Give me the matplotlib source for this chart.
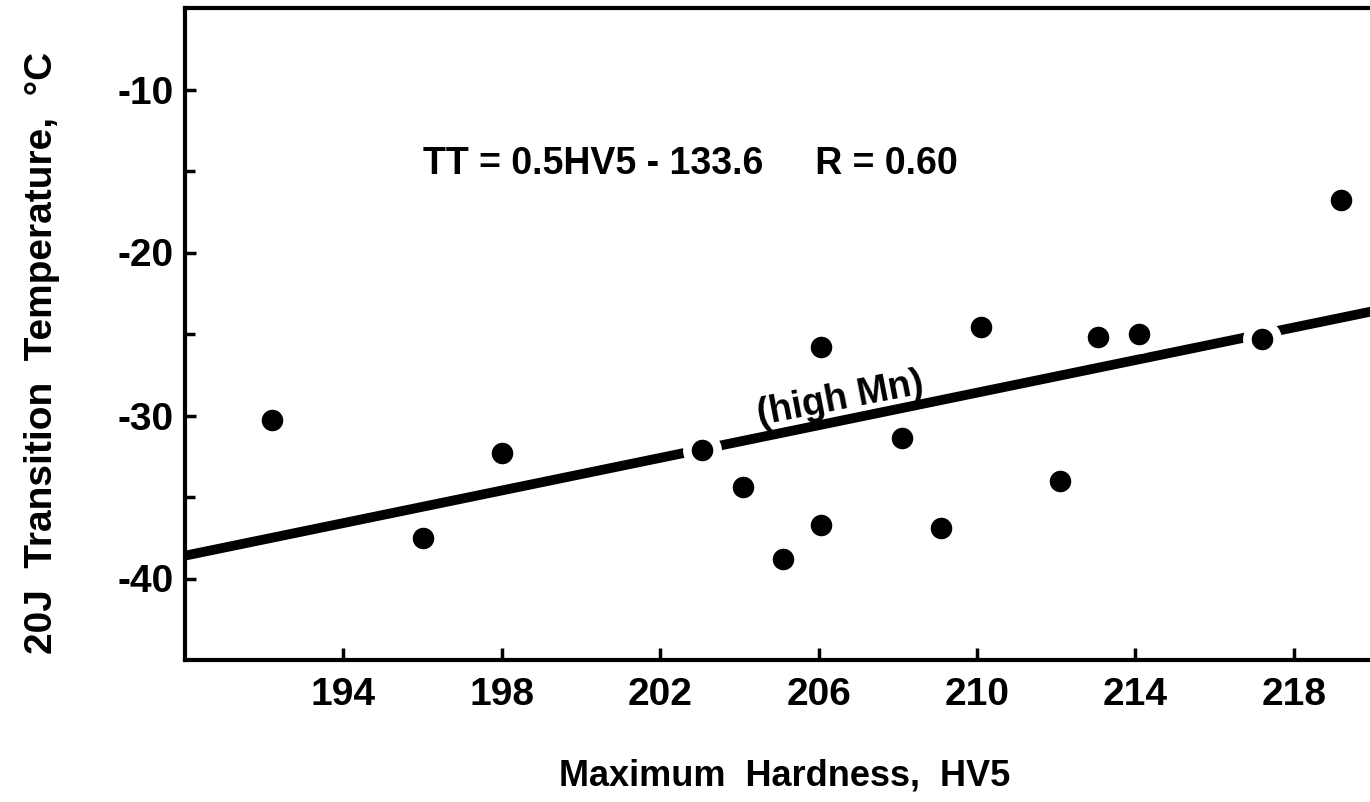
import matplotlib
matplotlib.use("Agg")
import matplotlib.pyplot as plt
from matplotlib import font_manager
import numpy as np

# hardness vs 20 J transition temperature (high Mn welds)
hardness = [192.2, 196.0, 198.0, 203.05, 204.1, 205.1, 206.05, 206.05,
            208.1, 209.1, 210.1, 212.1, 213.05, 214.1, 217.2, 219.2]
trans_temp = [-30.3, -37.5, -32.3, -32.1, -34.4, -38.8, -25.8, -36.7,
              -31.4, -36.9, -24.6, -34.0, -25.2, -25.0, -25.3, -16.8]

# fitted line  TT = 0.5*HV5 - 133.6
slope = 0.5
intercept = -133.6

xticks = [194, 198, 202, 206, 210, 214, 218]
yticks = [-40, -30, -20, -10]

names = {f.name for f in font_manager.fontManager.ttflist}
family = 'Liberation Sans Narrow' if 'Liberation Sans Narrow' in names else 'Liberation Sans'
plt.rcParams['font.family'] = [family, 'DejaVu Sans']
plt.rcParams['font.weight'] = 'bold'
plt.rcParams['axes.unicode_minus'] = False

fig = plt.figure(figsize=(13.7, 8.02), dpi=100)
ax = fig.add_axes([185 / 1370, 1 - 660 / 802, 1188 / 1370, 652 / 802])

xfit = np.array([190, 220])
ax.plot(xfit, slope * xfit + intercept, color='black', lw=7, solid_capstyle='round', zorder=1)

# white halo so the line breaks around points that sit on it
ax.plot(hardness, trans_temp, 'o', color='white', ms=28, mew=0, zorder=2)
ax.plot(hardness, trans_temp, 'o', color='black', ms=15.5, mew=0, zorder=3)

ax.set_xlim(190, 220)
ax.set_ylim(-45, -5)
ax.set_xticks(xticks)
ax.set_yticks(yticks)
ax.set_yticks([-35, -25, -15], minor=True)

ax.tick_params(axis='both', direction='in', width=2.5, labelsize=28)
ax.tick_params(axis='x', length=9, pad=12)
ax.tick_params(axis='y', length=8, pad=8)
ax.tick_params(axis='y', which='minor', direction='in', length=7, width=2.5)

for side in ['left', 'bottom', 'top']:
    ax.spines[side].set_linewidth(3)
ax.spines['right'].set_visible(False)

ax.text(196.0, -14.6, 'TT = 0.5HV5 - 133.6     R = 0.60', fontsize=27,
        ha='left', va='center')
ax.text(206.55, -29.0, '(high Mn)', fontsize=27, rotation=11,
        ha='center', va='center')

fig.text(785 / 1370, 1 - 776 / 802, 'Maximum  Hardness,  HV5', fontsize=26,
         ha='center', va='center')
fig.text(42 / 1370, 1 - 353 / 802, '20J  Transition  Temperature,  \u00b0C', fontsize=28,
         ha='center', va='center', rotation=90)

fig.savefig('out.png', dpi=100)
